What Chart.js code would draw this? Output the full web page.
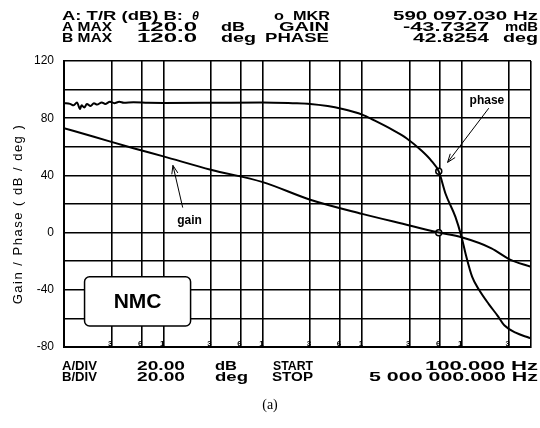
<!DOCTYPE html>
<html>
<head>
<meta charset="utf-8">
<script src="https://cdn.jsdelivr.net/npm/chart.js@4.4.1/dist/chart.umd.min.js"></script>
<style>
  body { margin: 0; background: #fff; }
  #wrap { width: 540px; height: 428px; }
</style>
</head>
<body>
<div id="wrap"><canvas id="bode" width="540" height="428"></canvas></div>
<script>
// Gain / phase sweep, 100 Hz .. 5 MHz
const gainFreq = [100, 200, 500, 1000, 3000, 10000, 30000, 100000, 300000, 590097, 1000000, 2000000, 3000000, 5000000]
const gainDb = [73, 67, 59, 53.3, 44, 35.3, 23, 13.1, 5, 0, -3.3, -11, -18.5, -24]

const phaseFreq = [100, 115, 125, 135, 145, 150, 160, 170, 185, 200, 215, 240, 260, 290, 320, 360, 400, 500, 700,
  1000, 3000, 10000, 20000, 30000, 45000, 62000, 100000, 131000, 200000, 279000, 400000, 500000, 590097,
  692000, 868000, 1000000, 1100000, 1280000, 1500000, 1880000, 2300000, 2710000, 3500000, 4780000, 5000000]
const phaseDeg = [90.5, 90, 89, 91, 86.5, 89, 87.5, 90, 88.5, 90.5, 89.5, 91, 90, 91.5, 90.5, 91.5, 90.8, 91.2, 90.8,
  90.7, 90.8, 91, 90.5, 90, 88.5, 86.6, 82.5, 78.6, 72, 66, 57, 50, 42.8,
  27, 11, -3, -15, -31, -40, -50, -58, -65, -70, -73.5, -74]

const markerFreq = 590097.03
const markerGain = -0.0437
const markerPhase = 42.8254

// vertical grid: 3, 6, 10 in each decade
const gridFreqs = [100, 300, 600, 1000, 3000, 6000, 10000, 30000, 60000, 100000, 300000, 600000, 1000000, 3000000, 5000000]
const gridLabels = ["", "3", "6", "1", "3", "6", "1", "3", "6", "1", "3", "6", "1", "3", ""]

const headerLines = [
  [["A: T/R (dB) B:", 62, 183], ["o  MKR", 274, 330], ["590 097.030 Hz", 393, 538]],
  [["A MAX", 62, 112], ["120.0", 137, 197], ["dB", 221, 245], ["GAIN", 279, 329], ["-43.7327", 403, 489], ["mdB", 505, 538]],
  [["B MAX", 62, 112], ["120.0", 137, 197], ["deg", 221, 256], ["PHASE", 265, 329], ["42.8254", 413, 489], ["deg", 503, 538]],
]
const footerLines = [
  [["A/DIV", 62, 97], ["20.00", 137, 185], ["dB", 215, 237], ["START", 273, 313], ["100.000 Hz", 425, 538]],
  [["B/DIV", 62, 97], ["20.00", 137, 185], ["deg", 215, 248], ["STOP", 272, 313], ["5 000 000.000 Hz", 369, 538]],
]

function pts(xs, ys) {
  return xs.map((x, i) => ({ x: x, y: ys[i] }))
}

function fitText(ctx, text, x0, x1, y) {
  const w = ctx.measureText(text).width
  ctx.save()
  ctx.translate(x0, y)
  ctx.scale((x1 - x0) / w, 1)
  ctx.fillText(text, 0, 0)
  ctx.restore()
}

function arrow(ctx, x0, y0, x1, y1) {
  ctx.beginPath()
  ctx.moveTo(x0, y0)
  ctx.lineTo(x1, y1)
  const a = Math.atan2(y1 - y0, x1 - x0)
  const len = 9
  ctx.moveTo(x1 - len * Math.cos(a - 0.35), y1 - len * Math.sin(a - 0.35))
  ctx.lineTo(x1, y1)
  ctx.lineTo(x1 - len * Math.cos(a + 0.35), y1 - len * Math.sin(a + 0.35))
  ctx.stroke()
}

const decorations = {
  id: "decorations",
  afterDraw(chart) {
    const ctx = chart.ctx
    const xs = chart.scales.x
    const ys = chart.scales.y
    const area = chart.chartArea
    const px = (f) => xs.getPixelForValue(f)
    const py = (v) => ys.getPixelForValue(v)
    ctx.save()
    ctx.fillStyle = "#000"
    ctx.strokeStyle = "#000"

    // instrument readout
    ctx.font = "bold 12.5px 'Liberation Sans', Arial, sans-serif"
    ctx.textBaseline = "alphabetic"
    const hy = [19.5, 30.5, 41.5]
    headerLines.forEach((line, i) => line.forEach(c => fitText(ctx, c[0], c[1], c[2], hy[i])))
    ctx.font = "bold italic 12.5px 'Liberation Sans', Arial, sans-serif"
    ctx.fillText("θ", 192, 19.5)
    ctx.font = "bold 12.5px 'Liberation Sans', Arial, sans-serif"
    const fy = [370, 381]
    footerLines.forEach((line, i) => line.forEach(c => fitText(ctx, c[0], c[1], c[2], fy[i])))

    // small 3 / 6 / 1 labels along the bottom edge
    ctx.font = "bold 8px 'Liberation Sans', Arial, sans-serif"
    ctx.textAlign = "right"
    gridFreqs.forEach((f, i) => {
      if (gridLabels[i]) ctx.fillText(gridLabels[i], px(f) + 1, area.bottom - 1)
    })

    // curve labels and arrows
    ctx.textAlign = "center"
    ctx.textBaseline = "middle"
    ctx.font = "bold 12px 'Liberation Sans', Arial, sans-serif"
    ctx.fillText("phase", px(1.8e6), py(92))
    ctx.fillText("gain", px(1834), py(8.4))
    ctx.lineWidth = 1
    arrow(ctx, px(1.88e6), py(87), px(7.24e5), py(49.1))
    arrow(ctx, px(1565), py(17.5), px(1247), py(47))

    // NMC box
    const bx0 = px(161), bx1 = px(1878), by0 = py(-30.9), by1 = py(-65.3)
    ctx.beginPath()
    ctx.roundRect(bx0, by0, bx1 - bx0, by1 - by0, 5)
    ctx.fillStyle = "#fff"
    ctx.fill()
    ctx.lineWidth = 1.5
    ctx.stroke()
    ctx.fillStyle = "#000"
    ctx.font = "bold 21px 'Liberation Sans', Arial, sans-serif"
    ctx.fillText("NMC", (bx0 + bx1) / 2, (by0 + by1) / 2 + 1)

    // axis title
    ctx.save()
    ctx.translate(18, 214)
    ctx.rotate(-Math.PI / 2)
    ctx.font = "13px 'Liberation Sans', Arial, sans-serif"
    ctx.letterSpacing = "1.5px"
    ctx.fillText("Gain / Phase ( dB / deg )", 0, 0)
    ctx.restore()

    // caption
    ctx.font = "14px 'Liberation Serif', 'Times New Roman', serif"
    ctx.fillText("(a)", 270, 405)
    ctx.restore()
  },
}

const ctx = document.getElementById("bode").getContext("2d")
new Chart(ctx, {
  type: "line",
  data: {
    datasets: [
      {
        label: "phase",
        data: pts(phaseFreq, phaseDeg),
        borderColor: "#000",
        borderWidth: 2,
        pointRadius: 0,
        cubicInterpolationMode: "monotone",
      },
      {
        label: "gain",
        data: pts(gainFreq, gainDb),
        borderColor: "#000",
        borderWidth: 2,
        pointRadius: 0,
        cubicInterpolationMode: "monotone",
      },
      {
        label: "marker",
        data: [{ x: markerFreq, y: markerPhase }, { x: markerFreq, y: markerGain }],
        showLine: false,
        pointRadius: 3,
        pointBackgroundColor: "#fff",
        pointBorderColor: "#000",
        pointBorderWidth: 1.5,
      },
    ],
  },
  options: {
    responsive: false,
    animation: false,
    devicePixelRatio: 1,
    layout: { padding: { top: 61, bottom: 81, right: 9, left: 0 } },
    plugins: { legend: { display: false }, tooltip: { enabled: false } },
    scales: {
      x: {
        type: "logarithmic",
        min: 100,
        max: 5000000,
        afterBuildTicks: (scale) => {
          scale.ticks = gridFreqs.map(v => ({ value: v }))
        },
        afterFit: (scale) => { scale.height = 0 },
        ticks: { display: false },
        grid: { color: "#000", lineWidth: 1.6, drawTicks: false },
        border: { color: "#000", width: 2 },
      },
      y: {
        min: -80,
        max: 120,
        afterFit: (scale) => { scale.width = 64 },
        ticks: {
          stepSize: 20,
          padding: 10,
          color: "#000",
          font: { family: "'Liberation Sans', Arial, sans-serif", size: 12 },
          callback: (v) => (v % 40 === 0 ? v : ""),
        },
        grid: { color: "#000", lineWidth: 1.6, drawTicks: false },
        border: { color: "#000", width: 2 },
      },
    },
  },
  plugins: [decorations],
})
</script>
</body>
</html>
